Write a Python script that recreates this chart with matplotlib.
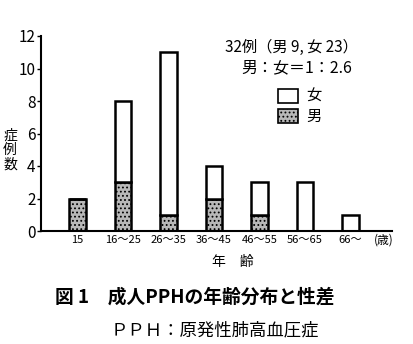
import numpy as np
import matplotlib.pyplot as plt
from matplotlib.patches import Rectangle

plt.rcParams['font.family'] = ['Noto Sans CJK JP', 'DejaVu Sans']
plt.rcParams['hatch.color'] = '#7a7a7a'
plt.rcParams['hatch.linewidth'] = 0.8

ages = ['15', '16〜25', '26〜35', '36〜45', '46〜55', '56〜65', '66〜']
male = [2, 3, 1, 2, 1, 0, 0]
female = [0, 5, 10, 2, 2, 3, 1]

W, H = 413, 344
fig = plt.figure(figsize=(W / 100, H / 100), dpi=100)

# axes box in pixels: left 41, right 392, bottom 231, top 36 (=12)
ax = fig.add_axes([41 / W, 1 - 231 / H, (392 - 41) / W, (231 - 36) / H])

x = np.arange(len(ages))
bw = 0.37
ax.bar(x, male, bw, color='#b8b8b8', edgecolor='black', linewidth=1.8,
       hatch='....', zorder=2)
ax.bar(x, female, bw, bottom=male, color='white', edgecolor='black',
       linewidth=1.8, zorder=2)

ax.set_xlim(-0.80, 6.91)
ax.set_ylim(0, 12)
ax.set_yticks([0, 2, 4, 6, 8, 10, 12])
ax.set_xticks(x)
ax.set_xticklabels(ages, fontsize=8)
ax.tick_params(axis='x', length=0, pad=3)
ax.tick_params(axis='y', labelsize=11, length=3, width=1, pad=1)
for s in ['top', 'right']:
    ax.spines[s].set_visible(False)
for s in ['left', 'bottom']:
    ax.spines[s].set_linewidth(1.5)

def ftext(px, py, s, **kw):
    fig.text(px / W, 1 - py / H, s, **kw)

ftext(384, 240, '(歳)', fontsize=8.5, ha='center', va='center')
ftext(10, 150, '症\n例\n数', fontsize=10, ha='center', va='center',
      linespacing=1.05)
ftext(233, 262, '年　齢', fontsize=10, ha='center', va='center')
ftext(195, 297, '図 1　成人PPHの年齢分布と性差', fontsize=13.5,
      fontweight='bold', ha='center', va='center')
ftext(215, 330, 'ＰＰＨ：原発性肺高血圧症', fontsize=12.5,
      ha='center', va='center')

ftext(291, 47, '32例（男 9, 女 23）', fontsize=11, ha='center', va='center')
ftext(297, 68, '男：女＝1：2.6', fontsize=11.5, ha='center', va='center')

# legend
fig.patches.append(Rectangle((278 / W, 1 - 103 / H), 20 / W, 14 / H,
                             transform=fig.transFigure, facecolor='white',
                             edgecolor='black', linewidth=1.2))
fig.patches.append(Rectangle((278 / W, 1 - 123 / H), 20 / W, 14 / H,
                             transform=fig.transFigure, facecolor='#b8b8b8',
                             edgecolor='black', linewidth=1.2, hatch='....'))
ftext(314, 96, '女', fontsize=11, ha='center', va='center')
ftext(314, 116, '男', fontsize=11, ha='center', va='center')

fig.savefig('out.png', dpi=100)
